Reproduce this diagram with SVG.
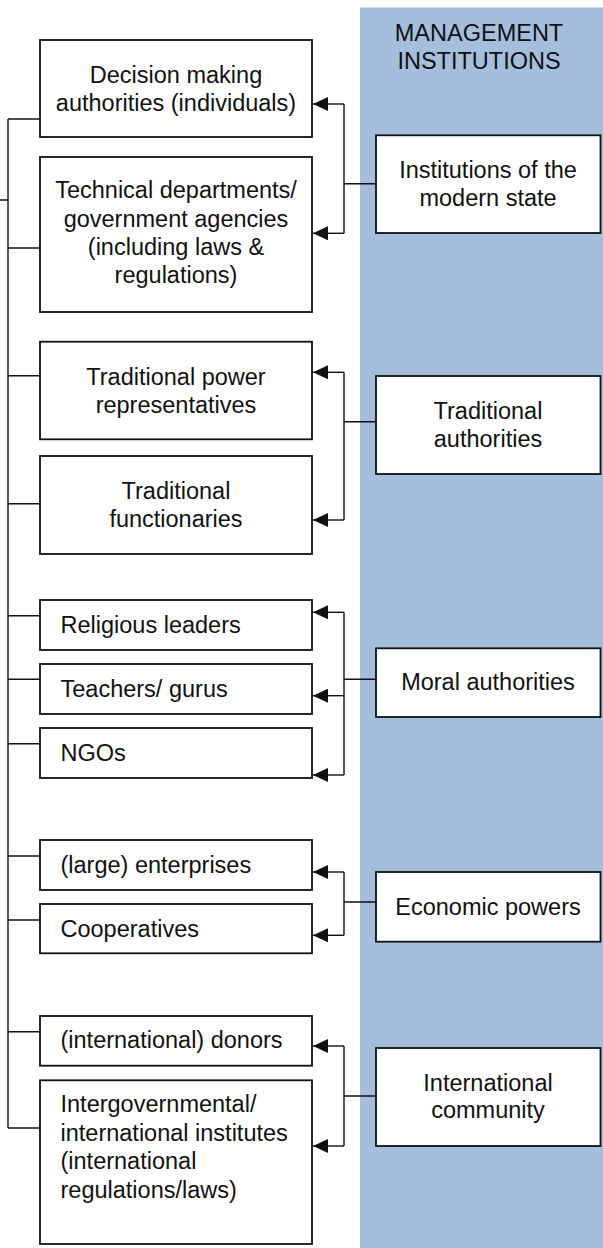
<svg xmlns="http://www.w3.org/2000/svg" width="603" height="1248" viewBox="0 0 603 1248">
<defs>
<style>
.bg{fill:#a4bedc;stroke:none}
.box{fill:#fff;stroke:#111;stroke-width:1.8}
.ln{fill:none;stroke:#111;stroke-width:1.4}
text{font-family:"Liberation Sans",Arial,sans-serif;font-size:23.5px;fill:#111}
.c{text-anchor:middle}
</style>
<marker id="ah" viewBox="0 -7 15 14" refX="15" refY="0" markerWidth="15" markerHeight="14" markerUnits="userSpaceOnUse" orient="auto">
<path d="M0,-7 L15,0 L0,7 z" fill="#111"/>
</marker>
</defs>
<rect class="bg" x="360" y="7.5" width="243" height="1240.5"/>
<g id="header">
<text class="c" x="479" y="40.5">MANAGEMENT</text>
<text class="c" x="479" y="69.3">INSTITUTIONS</text>
</g>
<g id="connectors">
<path class="ln" d="M0,200 H8 M8,119 V1128 M8,119 H40 M8,248 H40 M8,375.7 H40 M8,503.7 H40 M8,615.7 H40 M8,679.3 H40 M8,743.7 H40 M8,856 H40 M8,920 H40 M8,1031.7 H40 M8,1128 H40"/>
<path class="ln" d="M376,183.7 H344 M344,104 V233.3"/>
<path class="ln" d="M344,104 H313" marker-end="url(#ah)"/>
<path class="ln" d="M344,233.3 H313" marker-end="url(#ah)"/>
<path class="ln" d="M376,421.7 H344 M344,372.3 V520"/>
<path class="ln" d="M344,372.3 H313" marker-end="url(#ah)"/>
<path class="ln" d="M344,520 H313" marker-end="url(#ah)"/>
<path class="ln" d="M376,679.3 H344 M344,612.3 V775"/>
<path class="ln" d="M344,612.3 H313" marker-end="url(#ah)"/>
<path class="ln" d="M344,695.7 H313" marker-end="url(#ah)"/>
<path class="ln" d="M344,775 H313" marker-end="url(#ah)"/>
<path class="ln" d="M376,902 H344 M344,872 V935.3"/>
<path class="ln" d="M344,872 H313" marker-end="url(#ah)"/>
<path class="ln" d="M344,935.3 H313" marker-end="url(#ah)"/>
<path class="ln" d="M376,1096 H344 M344,1046 V1146"/>
<path class="ln" d="M344,1046 H313" marker-end="url(#ah)"/>
<path class="ln" d="M344,1146 H313" marker-end="url(#ah)"/>
</g>
<g id="decision-making">
<rect class="box" x="40" y="40" width="272" height="97"/>
<text class="c" x="176" y="83.3">Decision making</text>
<text class="c" x="176" y="110.7">authorities (individuals)</text>
</g>
<g id="technical">
<rect class="box" x="40" y="157" width="272" height="155"/>
<text class="c" x="176" y="198.3">Technical departments/</text>
<text class="c" x="176" y="226.7">government agencies</text>
<text class="c" x="176" y="255">(including laws &amp;</text>
<text class="c" x="176" y="283">regulations)</text>
</g>
<g id="modern-state">
<rect class="box" x="376" y="135.3" width="224.5" height="97.7"/>
<text class="c" x="488" y="178.3">Institutions of the</text>
<text class="c" x="488" y="206.3">modern state</text>
</g>
<g id="traditional-power">
<rect class="box" x="40" y="341.7" width="272" height="97.6"/>
<text class="c" x="176" y="385">Traditional power</text>
<text class="c" x="176" y="412.7">representatives</text>
</g>
<g id="traditional-functionaries">
<rect class="box" x="40" y="456" width="272" height="98"/>
<text class="c" x="176" y="499">Traditional</text>
<text class="c" x="176" y="527.3">functionaries</text>
</g>
<g id="traditional-authorities">
<rect class="box" x="376" y="376" width="224.5" height="98"/>
<text class="c" x="488" y="419">Traditional</text>
<text class="c" x="488" y="446.7">authorities</text>
</g>
<g id="religious-leaders">
<rect class="box" x="40" y="600" width="272" height="50"/>
<text x="60.5" y="633">Religious leaders</text>
</g>
<g id="teachers">
<rect class="box" x="40" y="664" width="272" height="50"/>
<text x="60.5" y="697">Teachers/ gurus</text>
</g>
<g id="ngos">
<rect class="box" x="40" y="728" width="272" height="50"/>
<text x="60.5" y="760.5">NGOs</text>
</g>
<g id="moral-authorities">
<rect class="box" x="376" y="648.3" width="224.5" height="68.7"/>
<text class="c" x="488" y="690">Moral authorities</text>
</g>
<g id="enterprises">
<rect class="box" x="40" y="840" width="272" height="50"/>
<text x="60.5" y="872.7">(large) enterprises</text>
</g>
<g id="cooperatives">
<rect class="box" x="40" y="904" width="272" height="49.3"/>
<text x="60.5" y="936.7">Cooperatives</text>
</g>
<g id="economic-powers">
<rect class="box" x="376" y="872" width="224.5" height="69.7"/>
<text class="c" x="488" y="914.5">Economic powers</text>
</g>
<g id="donors">
<rect class="box" x="40" y="1016" width="272" height="49.7"/>
<text x="60.5" y="1048.3">(international) donors</text>
</g>
<g id="intergovernmental">
<rect class="box" x="40" y="1080.3" width="272" height="163.7"/>
<text x="60.5" y="1112.3">Intergovernmental/</text>
<text x="60.5" y="1140.7">international institutes</text>
<text x="60.5" y="1169.3">(international</text>
<text x="60.5" y="1197.7">regulations/laws)</text>
</g>
<g id="international-community">
<rect class="box" x="376" y="1048" width="224.5" height="98"/>
<text class="c" x="488" y="1090.7">International</text>
<text class="c" x="488" y="1118.3">community</text>
</g>
</svg>
